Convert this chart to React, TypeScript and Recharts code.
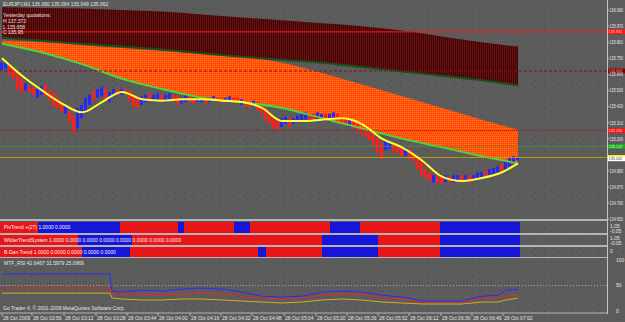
import React from 'react';
import {
  ComposedChart,
  Area,
  Bar,
  Line,
  Cell,
  XAxis,
  YAxis,
  ReferenceLine,
  ReferenceArea
} from 'recharts';

// EURJPY M1, one bar for every ~2 minutes of the screen
const candleHigh = [
  135.72, 135.72, 135.70, 135.67, 135.64, 135.61, 135.58, 135.56, 135.55, 135.54,
  135.56, 135.57, 135.53, 135.52, 135.48, 135.45, 135.43, 135.39, 135.36, 135.41,
  135.43, 135.48, 135.50, 135.53, 135.54, 135.55, 135.54, 135.52, 135.54, 135.54,
  135.54, 135.54, 135.53, 135.50, 135.48, 135.49, 135.50, 135.51, 135.50, 135.51,
  135.50, 135.50, 135.51, 135.50, 135.49, 135.48, 135.50, 135.49, 135.48, 135.48,
  135.48, 135.48, 135.48, 135.49, 135.48, 135.48, 135.48, 135.49, 135.48, 135.48,
  135.47, 135.46, 135.45, 135.46, 135.45, 135.43, 135.41, 135.38, 135.34, 135.32,
  135.34, 135.35, 135.34, 135.34, 135.36, 135.37, 135.38, 135.37, 135.37, 135.38,
  135.37, 135.37, 135.37, 135.38, 135.37, 135.35, 135.34, 135.34, 135.32, 135.30,
  135.28, 135.27, 135.25, 135.23, 135.20, 135.17, 135.19, 135.18, 135.17, 135.16,
  135.15, 135.14, 135.13, 135.10, 135.07, 135.04, 134.99, 134.97, 134.95, 134.95,
  134.94, 134.95, 134.94, 134.95, 134.95, 134.95, 134.95, 134.95, 134.95, 134.97,
  134.97, 134.98, 134.99, 135.00, 135.01, 135.03, 135.05, 135.07, 135.08, 135.07
];
const candleLow = [
  135.67, 135.68, 135.63, 135.61, 135.54, 135.51, 135.53, 135.52, 135.50, 135.48,
  135.50, 135.49, 135.46, 135.42, 135.41, 135.38, 135.37, 135.31, 135.24, 135.27,
  135.34, 135.39, 135.43, 135.46, 135.48, 135.49, 135.47, 135.45, 135.49, 135.50,
  135.50, 135.51, 135.46, 135.42, 135.41, 135.43, 135.45, 135.46, 135.45, 135.47,
  135.46, 135.45, 135.47, 135.45, 135.43, 135.44, 135.45, 135.45, 135.44, 135.45,
  135.45, 135.44, 135.45, 135.46, 135.45, 135.45, 135.46, 135.46, 135.45, 135.45,
  135.43, 135.42, 135.41, 135.42, 135.39, 135.37, 135.32, 135.30, 135.27, 135.26,
  135.28, 135.30, 135.28, 135.30, 135.31, 135.32, 135.33, 135.32, 135.32, 135.33,
  135.32, 135.32, 135.33, 135.34, 135.32, 135.30, 135.29, 135.28, 135.27, 135.25,
  135.23, 135.21, 135.19, 135.15, 135.10, 135.06, 135.12, 135.13, 135.11, 135.10,
  135.08, 135.08, 135.06, 135.04, 134.99, 134.95, 134.93, 134.91, 134.90, 134.90,
  134.89, 134.90, 134.90, 134.90, 134.91, 134.90, 134.91, 134.90, 134.91, 134.93,
  134.93, 134.94, 134.95, 134.96, 134.97, 134.98, 134.99, 135.01, 135.03, 135.05
];
// u = up bar (blue), d = down bar (red)
const candleDir = [
  'uudddduddu', 'uddddduddu', 'uuuduuduud', 'udddduuduu', 'duudduuddu',
  'uduudduudd', 'uddudddddd', 'uuduuuuddu', 'uduudddudd', 'dddddduudd',
  'duddddddud', 'duduududuu', 'uduuuduuuu'
].join('');

const maIdx = [0, 5, 10, 15, 20, 25, 30, 35, 40, 45, 50, 55, 60, 65, 70, 75, 80, 85, 90, 95, 100, 105, 110, 115, 120, 125, 129];
const yellowMa = [
  135.75, 135.63, 135.53, 135.44, 135.38, 135.45, 135.52, 135.47, 135.46, 135.47,
  135.47, 135.46, 135.45, 135.41, 135.32, 135.32, 135.33, 135.34, 135.30, 135.20,
  135.14, 135.05, 134.94, 134.91, 134.93, 134.97, 135.03
];

const bandIdx = [0, 10, 20, 30, 40, 50, 60, 70, 80, 90, 100, 110, 120, 129];
const darkTop = [136.10, 136.095, 136.09, 136.08, 136.07, 136.05, 136.03, 136.01, 135.99, 135.97, 135.94, 135.90, 135.86, 135.83];
const darkBottom = [135.89, 135.87, 135.85, 135.83, 135.81, 135.785, 135.76, 135.74, 135.72, 135.69, 135.66, 135.63, 135.60, 135.565];
const orangeTop = [135.87, 135.86, 135.84, 135.82, 135.80, 135.78, 135.76, 135.72, 135.65, 135.57, 135.49, 135.41, 135.33, 135.26];
const greenMa = [135.85, 135.79, 135.71, 135.61, 135.54, 135.48, 135.45, 135.41, 135.34, 135.27, 135.20, 135.14, 135.08, 135.03];

const priceTicks = [136.08, 135.97, 135.86, 135.75, 135.64, 135.53, 135.42, 135.31, 135.2, 134.98, 134.87, 134.76, 134.65];
const levelPrices = [135.931, 135.663, 135.255, 135.147, 135.071, 135.062];

const timeLabels = [
  '28 Oct 2009', '28 Oct 02:56', '28 Oct 03:12', '28 Oct 03:28', '28 Oct 03:44', '28 Oct 04:00',
  '28 Oct 04:16', '28 Oct 04:32', '28 Oct 04:48', '28 Oct 05:04', '28 Oct 05:20', '28 Oct 05:36',
  '28 Oct 05:52', '28 Oct 06:12', '28 Oct 06:30', '28 Oct 06:46', '28 Oct 07:02'
];
const timeTickIdx = [0, 7.5, 15.5, 23.5, 31.25, 39, 47, 54.75, 62.5, 70.5, 78.5, 86.25, 94, 101.75, 109.75, 117.5, 125.25];

// trend strips: [from, to, state] with 1 = up (blue), 0 = down (red)
const pivTrendRuns: [number, number, number][] = [
  [-0.5, 9, 0], [9, 29.5, 1], [29.5, 44, 0], [44, 45.5, 1], [45.5, 58, 0], [58, 62, 1],
  [62, 82, 0], [82, 89.5, 1], [89.5, 109.5, 0], [109.5, 129.5, 1]
];
const wilderRuns: [number, number, number][] = [
  [-0.5, 19, 0], [19, 32.5, 1], [32.5, 80, 0], [80, 94, 1], [94, 109.5, 0], [109.5, 129.5, 1]
];
const bdanRuns: [number, number, number][] = [
  [-0.5, 20, 0], [20, 22, 1], [22, 32, 1], [32, 64, 0], [64, 66, 1], [66, 80, 0],
  [80, 94, 1], [94, 109.5, 0], [109.5, 129.5, 1]
];

const rsiIdx = [0, 27, 27.5, 30, 35, 40, 45, 50, 55, 60, 65, 70, 75, 80, 85, 90, 95, 100, 105, 110, 115, 120, 124, 126, 129];
const rsiBlue = [72.5, 72.5, 39, 37, 41, 39, 43, 45, 43, 37, 29, 27.5, 29, 37, 39, 37, 31, 27.5, 19.6, 19.6, 19.6, 29, 31, 41, 42.6];
const rsiRed = [45, 45, 35, 33, 33, 31, 33, 35, 33, 29, 25.5, 23.5, 25.5, 31, 33, 33, 25.5, 23.5, 17.6, 17.6, 17.6, 25.5, 25.5, 29, 31.6];
const rsiYellow = [35, 35, 25.5, 23.5, 21.6, 21.6, 23.5, 23.5, 21.6, 19.6, 17.6, 15.7, 17.6, 21.6, 23.5, 21.6, 17.6, 15.7, 13.7, 13.7, 13.7, 17.6, 17.6, 21.6, 25.1];

const X_DOMAIN: [number, number] = [-0.5, 151.25];
const FONT = '"Liberation Sans", Arial, sans-serif';
const TXT = '#e6e6e6';

const candles = candleHigh.map((hi, i) => ({ i, hi, lo: candleLow[i], up: candleDir[i] === 'u' }));
const maData = maIdx.map((i, k) => ({ i, v: yellowMa[k] }));
const darkBand = bandIdx.map((i, k) => ({ i, hi: darkTop[k], lo: darkBottom[k] }));
const orangeBand = bandIdx.map((i, k) => ({ i, hi: orangeTop[k], lo: greenMa[k] }));
const rsiData = rsiIdx.map((i, k) => ({ i, b: rsiBlue[k], r: rsiRed[k], y: rsiYellow[k] }));

const levelStyle = [
  { stroke: '#ff1414', dash: undefined, box: '#ff1414', text: '#ffd0d0' },
  { stroke: '#8a1010', dash: '3 2', box: '#7a0000', text: '#ff9090' },
  { stroke: '#b01818', dash: '1 1', box: '#ff1414', text: '#ffd0d0' },
  { stroke: '#30b830', dash: '1 1', box: '#22a822', text: '#d0ffd0' },
  { stroke: '#b4a000', dash: undefined, box: '#ffff00', text: '#606000' },
  { stroke: 'none', dash: undefined, box: '#ffffff', text: '#404040' }
];

const boxLabel = (value: number, box: string, text: string) => (props: any) => {
  const vb = props.viewBox || {};
  const x = (vb.x || 0) + (vb.width || 0);
  const y = vb.y || 0;
  return (
    <g>
      <rect x={x} y={y - 2.4} width={18} height={4.8} fill={box} />
      <text x={x + 1.5} y={y + 1.5} fontSize={4.4} fill={text} fontFamily={FONT} textLength={14} lengthAdjust="spacingAndGlyphs">
        {value.toFixed(3)}
      </text>
    </g>
  );
};

const PriceTick = (props: any) => (
  <text x={props.x} y={props.y} dy={2} fontSize={4.6} fill={TXT} fontFamily={FONT} textLength={13.5} lengthAdjust="spacingAndGlyphs">
    {Number(props.payload.value).toFixed(3)}
  </text>
);

const RsiTick = (props: any) => (
  <text x={props.x} y={props.y} dy={1.8} fontSize={5} fill={TXT} fontFamily={FONT}>
    {props.payload.value}
  </text>
);

const TimeTick = (props: any) => (
  <text x={props.x + 1} y={props.y + 4} fontSize={5} fill={TXT} fontFamily={FONT} textAnchor="start">
    {timeLabels[props.index]}
  </text>
);

function Strip({ runs, top, height }: { runs: [number, number, number][]; top: number; height: number }) {
  const pts = runs.map(([a]) => ({ i: a, v: 0.5 }));
  return (
    <div style={{ position: 'absolute', left: 0, top }}>
      <ComposedChart width={607} height={height} data={pts} margin={{ top: 0, right: 0, bottom: 0, left: 0 }}>
        <XAxis type="number" dataKey="i" domain={X_DOMAIN} hide allowDataOverflow />
        <YAxis domain={[0, 1]} hide />
        {runs.map(([a, b, s], k) => (
          <ReferenceArea key={k} x1={a} x2={b} y1={0} y2={1} fill={s ? '#1616d8' : '#e81616'} fillOpacity={1} stroke="none" ifOverflow="hidden" />
        ))}
        <Line dataKey="v" stroke="none" dot={false} activeDot={false} isAnimationActive={false} />
      </ComposedChart>
    </div>
  );
}

const label = (text: string, left: number, top: number, color = TXT) => (
  <div style={{ position: 'absolute', left, top, fontSize: 5, lineHeight: '6px', color, whiteSpace: 'nowrap' }}>{text}</div>
);

const hr = (top: number, h = 2) => (
  <div style={{ position: 'absolute', left: 0, top, width: 608, height: h, background: '#b4b4b4' }} />
);

export default function App() {
  return (
    <div
      style={{
        position: 'relative',
        width: 625,
        height: 322,
        overflow: 'hidden',
        background: '#5c5c5c',
        backgroundImage:
          'radial-gradient(circle, #2f5a32 0.6px, transparent 0.9px), radial-gradient(circle, #345e36 0.6px, transparent 0.9px)',
        backgroundSize: '9px 7px, 13px 11px',
        backgroundPosition: '0 0, 5px 3px',
        fontFamily: FONT
      }}
    >
      <style>{'body{margin:0;background:#5c5c5c}'}</style>

      {/* panel borders */}
      {hr(219)}
      {hr(233)}
      {hr(245)}
      {hr(257, 1)}

      {/* price panel */}
      <div style={{ position: 'absolute', left: 0, top: 0 }}>
        <ComposedChart width={625} height={224} data={candles} margin={{ top: 0, right: 0, bottom: 4, left: 0 }}>
          <defs>
            <pattern id="darkHatch" width="2" height="2" patternUnits="userSpaceOnUse">
              <rect width="2" height="2" fill="#3e0606" />
              <rect width="1" height="2" fill="#6a1010" />
            </pattern>
            <pattern id="orangeHatch" width="2" height="2" patternUnits="userSpaceOnUse">
              <rect width="2" height="2" fill="#ff4c00" />
              <rect width="1" height="1" fill="#ff7a36" />
            </pattern>
          </defs>
          <XAxis type="number" dataKey="i" domain={X_DOMAIN} hide allowDataOverflow />
          <YAxis
            orientation="right"
            width={18}
            domain={[134.643, 136.149]}
            ticks={priceTicks}
            interval={0}
            allowDataOverflow
            axisLine={false}
            tickLine={{ stroke: '#c0c0c0' }}
            tickSize={2}
            tickMargin={0.5}
            tick={PriceTick}
          />
          <Area data={darkBand} dataKey={(d: any) => [d.lo, d.hi]} type="monotone" stroke="none" fill="url(#darkHatch)" fillOpacity={1} dot={false} activeDot={false} isAnimationActive={false} />
          <Area data={orangeBand} dataKey={(d: any) => [d.lo, d.hi]} type="monotone" stroke="none" fill="url(#orangeHatch)" fillOpacity={1} dot={false} activeDot={false} isAnimationActive={false} />
          <Line data={darkBand} dataKey="lo" type="monotone" stroke="#1c4e1c" strokeWidth={2} dot={false} activeDot={false} isAnimationActive={false} />
          <Line data={orangeBand} dataKey="lo" type="monotone" stroke="#52d23c" strokeWidth={2} dot={false} activeDot={false} isAnimationActive={false} />
          {levelPrices.map((p, k) => (
            <ReferenceLine
              key={k}
              y={p}
              stroke={levelStyle[k].stroke}
              strokeDasharray={levelStyle[k].dash}
              label={boxLabel(p, levelStyle[k].box, levelStyle[k].text)}
            />
          ))}
          <Bar dataKey={(d: any) => [d.lo, d.hi]} barSize={3} isAnimationActive={false}>
            {candles.map((c, k) => (
              <Cell key={k} fill={c.up ? '#2626ff' : '#ff1e1e'} />
            ))}
          </Bar>
          <Line data={maData} dataKey="v" type="monotone" stroke="#ffff30" strokeWidth={2} dot={false} activeDot={false} isAnimationActive={false} />
        </ComposedChart>
      </div>

      {label('EURJPY,M1  135.060 135.064 135.049 135.062', 3, 1)}
      {label('Yesterday quotations:', 3, 12)}
      {label('H 137.372', 3, 18)}
      {label('L 135.658', 3, 24)}
      {label('C 135.95', 3, 29)}

      {/* indicator strips */}
      <Strip runs={pivTrendRuns} top={222} height={11} />
      <Strip runs={wilderRuns} top={235} height={10} />
      <Strip runs={bdanRuns} top={247} height={10} />
      {label('PivTrend +(27) 1.0000 0.0000', 4, 224, '#f4f4f4')}
      {label('WilderTrendSystem 1.0000 0.0000 0.0000 0.0000 0.0000 0.0000 0.0000 0.0000', 4, 237, '#f4f4f4')}
      {label('B-Dan Trend 1.0000 0.0000 0.0000 0.0000 0.0000', 4, 249, '#f4f4f4')}
      {label('1.05', 610, 222.5)}
      {label('-0.05', 610, 228)}
      {label('1.05', 610, 234.5)}
      {label('-0.05', 610, 239.5)}
      {label('0', 610, 248)}

      {/* RSI panel */}
      <div style={{ position: 'absolute', left: 0, top: 258 }}>
        <ComposedChart width={625} height={64} data={rsiData} margin={{ top: 1, right: 0, bottom: 0, left: 0 }}>
          <XAxis
            type="number"
            dataKey="i"
            domain={X_DOMAIN}
            allowDataOverflow
            ticks={timeTickIdx}
            interval={0}
            height={9}
            tickSize={3}
            tickMargin={0}
            axisLine={{ stroke: '#b4b4b4' }}
            tickLine={{ stroke: '#b4b4b4' }}
            tick={TimeTick}
          />
          <YAxis
            orientation="right"
            width={18}
            domain={[-3.92, 101.96]}
            ticks={[0, 50, 100]}
            interval={0}
            allowDataOverflow
            axisLine={false}
            tickLine={false}
            tickMargin={3}
            tick={RsiTick}
          />
          <ReferenceLine y={50} stroke="#a8a8a8" strokeDasharray="1 2" />
          <Line dataKey="y" type="linear" stroke="#c8b41c" strokeWidth={1} dot={false} activeDot={false} isAnimationActive={false} />
          <Line dataKey="r" type="linear" stroke="#ee2424" strokeWidth={1} dot={false} activeDot={false} isAnimationActive={false} />
          <Line dataKey="b" type="linear" stroke="#2a2aff" strokeWidth={1} dot={false} activeDot={false} isAnimationActive={false} />
        </ComposedChart>
      </div>
      {label('MTF_RSI 42.6467 31.5979 25.0969', 4, 260)}
      {label('Go Trader 4, \u00a9 2001-2009 MetaQuotes Software Corp.', 3, 305)}

      <div style={{ position: 'absolute', left: 607, top: 0, width: 1, height: 314, background: '#c4c4c4' }} />
    </div>
  );
}
